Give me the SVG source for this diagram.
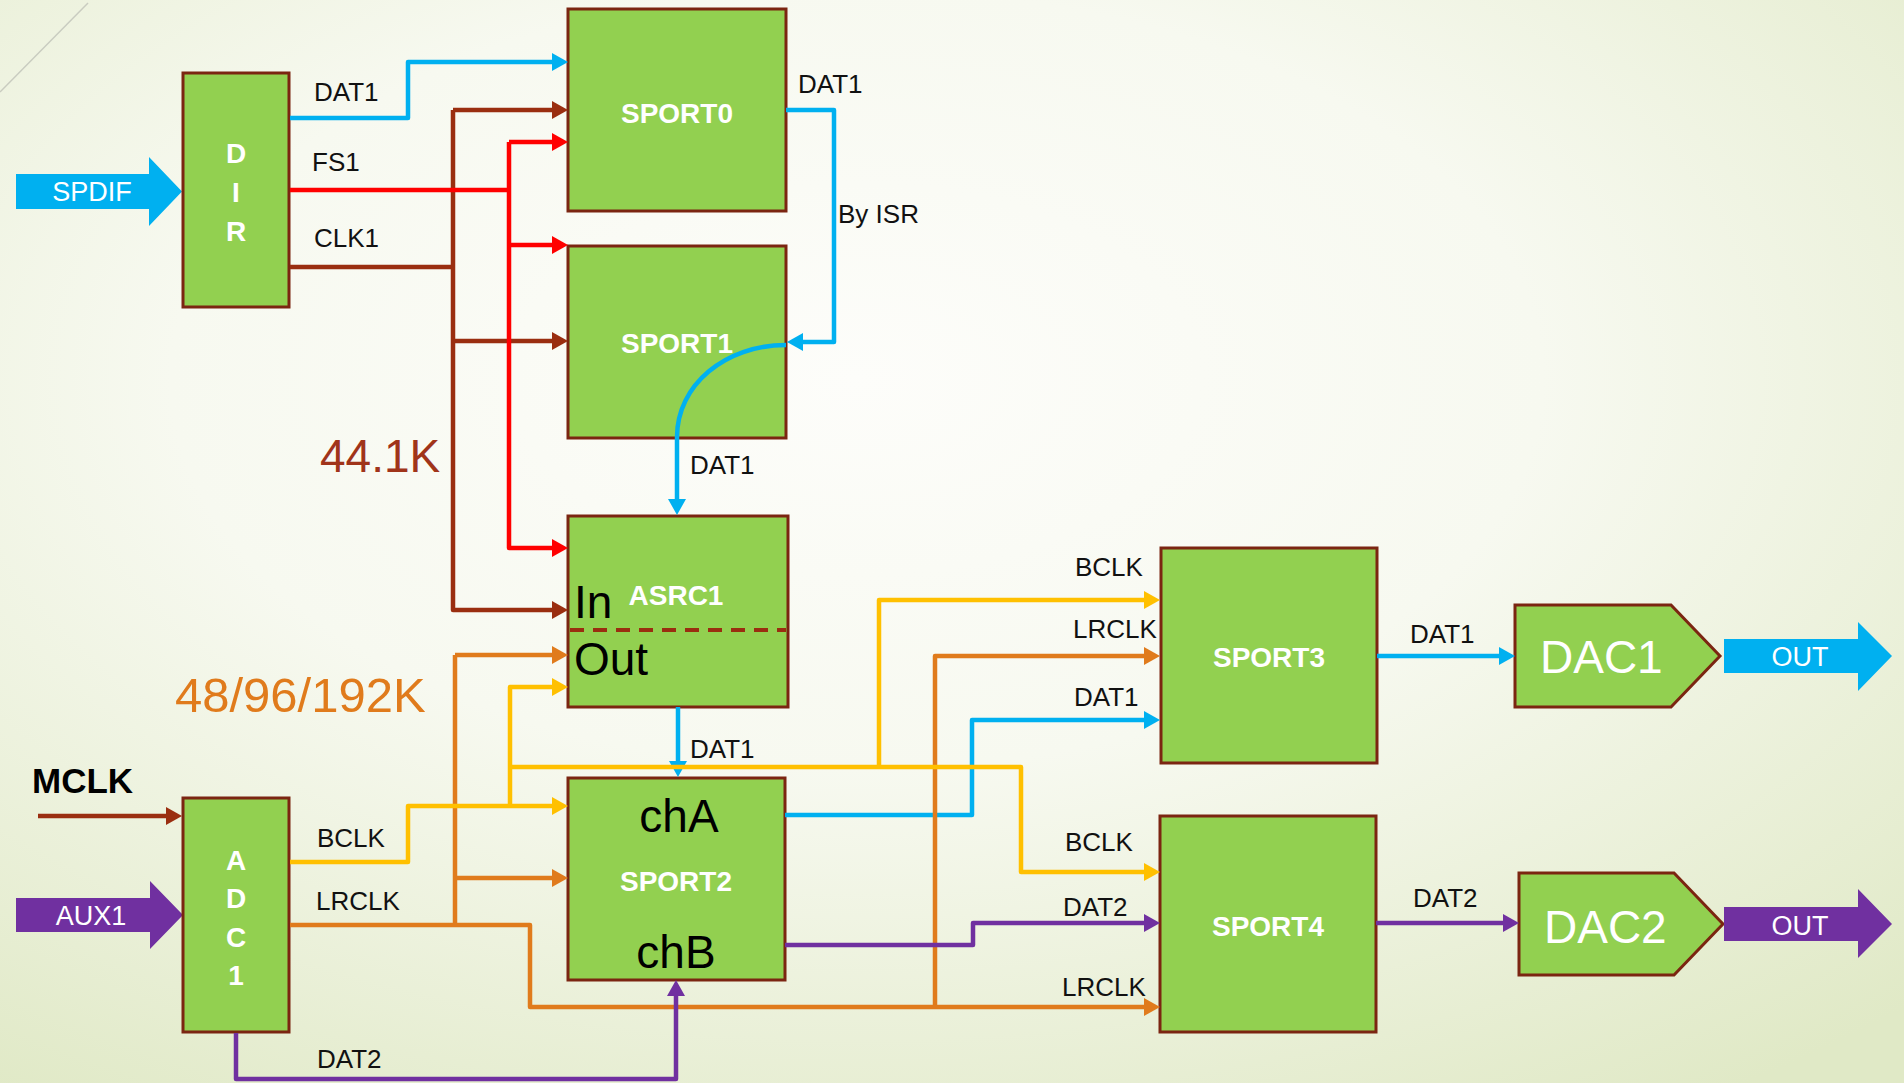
<svg xmlns="http://www.w3.org/2000/svg" width="1904" height="1083" viewBox="0 0 1904 1083">
<defs>
<radialGradient id="bg" cx="0.45" cy="0.35" r="0.8">
<stop offset="0" stop-color="#FDFDFA"/>
<stop offset="0.45" stop-color="#F7F9F0"/>
<stop offset="1" stop-color="#E0E9C6"/>
</radialGradient>
<marker id="aB" markerUnits="userSpaceOnUse" markerWidth="16" markerHeight="18" viewBox="0 0 16 18" refX="8" refY="9" orient="auto"><path d="M0,0 L16,9 L0,18 z" fill="#00B0F0"/></marker>
<marker id="aR" markerUnits="userSpaceOnUse" markerWidth="16" markerHeight="18" viewBox="0 0 16 18" refX="8" refY="9" orient="auto"><path d="M0,0 L16,9 L0,18 z" fill="#FF0000"/></marker>
<marker id="aN" markerUnits="userSpaceOnUse" markerWidth="16" markerHeight="18" viewBox="0 0 16 18" refX="8" refY="9" orient="auto"><path d="M0,0 L16,9 L0,18 z" fill="#9A2E10"/></marker>
<marker id="aO" markerUnits="userSpaceOnUse" markerWidth="16" markerHeight="18" viewBox="0 0 16 18" refX="8" refY="9" orient="auto"><path d="M0,0 L16,9 L0,18 z" fill="#E07B1C"/></marker>
<marker id="aY" markerUnits="userSpaceOnUse" markerWidth="16" markerHeight="18" viewBox="0 0 16 18" refX="8" refY="9" orient="auto"><path d="M0,0 L16,9 L0,18 z" fill="#FFC000"/></marker>
<marker id="aP" markerUnits="userSpaceOnUse" markerWidth="16" markerHeight="18" viewBox="0 0 16 18" refX="8" refY="9" orient="auto"><path d="M0,0 L16,9 L0,18 z" fill="#7030A0"/></marker>
</defs>
<style>
.box{fill:#92D050;stroke:#7B2511;stroke-width:3}
.w{fill:none;stroke-width:4.5;stroke-linejoin:round;stroke-linecap:butt}
.b{stroke:#00B0F0}.r{stroke:#FF0000}.n{stroke:#9A2E10}.o{stroke:#E07B1C}.y{stroke:#FFC000}.p{stroke:#7030A0}
text{font-family:"Liberation Sans",Arial,sans-serif}
.lbl{font-size:26px;fill:#111}
.nb{font-size:28px;font-weight:bold;fill:#FFFFFF;text-anchor:middle}
.big{font-size:46px;fill:#000}
.wt{font-size:27px;fill:#FFFFFF;text-anchor:middle}
</style>
<rect x="0" y="0" width="1904" height="1083" fill="url(#bg)"/>
<line x1="0" y1="92" x2="88" y2="3" stroke="#C9CCC0" stroke-width="1.5"/>

<text x="320" y="472" font-size="46" fill="#A0341A">44.1K</text>
<text x="175" y="712" font-size="49" fill="#E07B1C">48/96/192K</text>
<text x="32" y="793" font-size="35" font-weight="bold" fill="#000">MCLK</text>

<g id="spdif">
<polygon points="16,174 149,174 149,157 182,191.5 149,226 149,209 16,209" fill="#00B0F0"/>
<text class="wt" x="92" y="201">SPDIF</text>
</g>
<g id="aux1">
<polygon points="16,898 150,898 150,881 183,915 150,949 150,932 16,932" fill="#7030A0"/>
<text class="wt" x="91" y="925">AUX1</text>
</g>

<g id="dir">
<rect class="box" x="183" y="73" width="106" height="234"/>
<text class="nb" x="236" y="163" font-size="29">D</text>
<text class="nb" x="236" y="202" font-size="29">I</text>
<text class="nb" x="236" y="241" font-size="29">R</text>
</g>
<g id="adc1">
<rect class="box" x="183" y="798" width="106" height="234"/>
<text class="nb" x="236" y="870" font-size="29">A</text>
<text class="nb" x="236" y="908" font-size="29">D</text>
<text class="nb" x="236" y="947" font-size="29">C</text>
<text class="nb" x="236" y="985" font-size="29">1</text>
</g>
<g id="sport0">
<rect class="box" x="568" y="9" width="218" height="202"/>
<text class="nb" x="677" y="123">SPORT0</text>
</g>
<g id="sport1">
<rect class="box" x="568" y="246" width="218" height="192"/>
<text class="nb" x="677" y="353">SPORT1</text>
</g>
<g id="asrc1">
<rect class="box" x="568" y="516" width="220" height="191"/>
<line x1="570" y1="630" x2="786" y2="630" stroke="#9A2E10" stroke-width="4" stroke-dasharray="14,9"/>
<text class="nb" x="676" y="605">ASRC1</text>
<text class="big" x="574" y="618">In</text>
<text class="big" x="574" y="675">Out</text>
</g>
<g id="sport2">
<rect class="box" x="568" y="778" width="217" height="202"/>
<text class="big" x="679" y="832" font-size="49" text-anchor="middle">chA</text>
<text class="nb" x="676" y="891">SPORT2</text>
<text class="big" x="676" y="968" font-size="49" text-anchor="middle">chB</text>
</g>
<g id="sport3">
<rect class="box" x="1161" y="548" width="216" height="215"/>
<text class="nb" x="1269" y="667">SPORT3</text>
</g>
<g id="sport4">
<rect class="box" x="1160" y="816" width="216" height="216"/>
<text class="nb" x="1268" y="936">SPORT4</text>
</g>
<g id="dac1">
<polygon class="box" points="1515,605 1671,605 1720,656 1671,707 1515,707"/>
<text x="1540" y="673" font-size="46" fill="#FFFFFF">DAC1</text>
</g>
<g id="dac2">
<polygon class="box" points="1519,873 1674,873 1723,924 1674,975 1519,975"/>
<text x="1544" y="943" font-size="46" fill="#FFFFFF">DAC2</text>
</g>
<g id="out1">
<polygon points="1724,639 1858,639 1858,622 1892,656 1858,691 1858,673 1724,673" fill="#00B0F0"/>
<text class="wt" x="1800" y="666" font-size="26">OUT</text>
</g>
<g id="out2">
<polygon points="1724,907 1858,907 1858,889 1892,924 1858,958 1858,941 1724,941" fill="#7030A0"/>
<text class="wt" x="1800" y="935" font-size="26">OUT</text>
</g>

<g id="connectors">
<path class="w b" d="M290,118 H408 V62 H560" marker-end="url(#aB)"/>
<path class="w b" d="M786,110 H834 V342 H795" marker-end="url(#aB)"/>
<path class="w b" d="M786,345 C725,345 677,385 677,437 V507" marker-end="url(#aB)"/>
<path class="w b" d="M678,707 V769" marker-end="url(#aB)"/>
<path class="w b" d="M785,815 H972 V720 H1152" marker-end="url(#aB)"/>
<path class="w b" d="M1377,656 H1507" marker-end="url(#aB)"/>

<path class="w n" d="M290,267 H453"/>
<path class="w n" d="M453,110 H560" marker-end="url(#aN)"/>
<path class="w n" d="M453,341 H560" marker-end="url(#aN)"/>
<path class="w n" d="M453,110 V610 H560" marker-end="url(#aN)"/>

<path class="w r" d="M290,190 H511" stroke-linecap="round"/>
<path class="w r" d="M509,142 H560" marker-end="url(#aR)"/>
<path class="w r" d="M509,245 H560" marker-end="url(#aR)"/>
<path class="w r" d="M509,142 V548 H560" marker-end="url(#aR)"/>

<path class="w o" d="M455,655 V925"/>
<path class="w o" d="M455,655 H560" marker-end="url(#aO)"/>
<path class="w o" d="M455,878 H560" marker-end="url(#aO)"/>
<path class="w o" d="M290,925 H530 V1007 H1152" marker-end="url(#aO)"/>
<path class="w o" d="M935,1007 V656 H1152" marker-end="url(#aO)"/>

<path class="w y" d="M290,862 H408 V806 H560" marker-end="url(#aY)"/>
<path class="w y" d="M510,806 V687 H560" marker-end="url(#aY)"/>
<path class="w y" d="M510,767 H1021 V872 H1152" marker-end="url(#aY)"/>
<path class="w y" d="M879,767 V600 H1152" marker-end="url(#aY)"/>

<path class="w p" d="M236,1033 V1079 H676 V988" marker-end="url(#aP)"/>
<path class="w p" d="M785,945 H973 V923 H1152" marker-end="url(#aP)"/>
<path class="w p" d="M1376,923 H1511" marker-end="url(#aP)"/>

<path class="w n" d="M38,816 H174" stroke-linecap="round" marker-end="url(#aN)"/>

<text class="lbl" x="314" y="101">DAT1</text>
<text class="lbl" x="312" y="171">FS1</text>
<text class="lbl" x="314" y="247">CLK1</text>
<text class="lbl" x="798" y="93">DAT1</text>
<text class="lbl" x="838" y="223">By ISR</text>
<text class="lbl" x="690" y="474">DAT1</text>
<text class="lbl" x="690" y="758">DAT1</text>
<text class="lbl" x="317" y="847">BCLK</text>
<text class="lbl" x="316" y="910">LRCLK</text>
<text class="lbl" x="317" y="1068">DAT2</text>
<text class="lbl" x="1075" y="576">BCLK</text>
<text class="lbl" x="1073" y="638">LRCLK</text>
<text class="lbl" x="1074" y="706">DAT1</text>
<text class="lbl" x="1065" y="851">BCLK</text>
<text class="lbl" x="1063" y="916">DAT2</text>
<text class="lbl" x="1062" y="996">LRCLK</text>
<text class="lbl" x="1410" y="643">DAT1</text>
<text class="lbl" x="1413" y="907">DAT2</text>
</g>
</svg>
